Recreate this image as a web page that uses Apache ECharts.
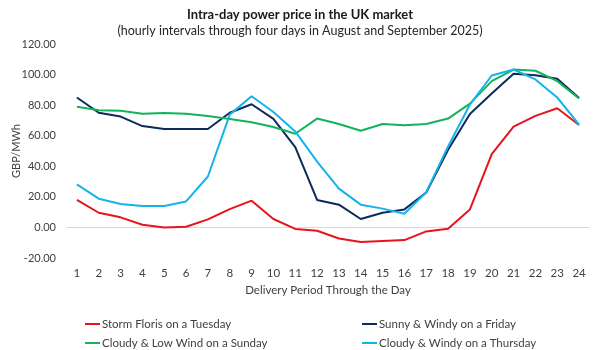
<!DOCTYPE html>
<html>
<head>
<meta charset="utf-8">
<script src="https://cdn.jsdelivr.net/npm/echarts@6/dist/echarts.min.js"></script>
<style>
  html, body { margin: 0; padding: 0; background: #fff; }
  #chart { width: 600px; height: 350px; }
</style>
</head>
<body>
<div id="chart"></div>
<script>
// delivery periods 1..24
const periods = ['1','2','3','4','5','6','7','8','9','10','11','12','13','14','15','16','17','18','19','20','21','22','23','24'];

const stormFloris = [18, 9.6, 6.6, 1.8, 0, 0.4, 5.3, 12, 17.5, 5.5, -1, -2.2, -7.2, -9.6, -8.8, -8.3, -2.6, -0.9, 11.8, 48, 66, 73, 78, 67];
const sunnyWindy = [85, 75, 72.5, 66.3, 64.4, 64.4, 64.4, 75, 80.6, 71, 52.5, 18, 14.9, 5.5, 9.6, 11.8, 22.8, 50.8, 74.2, 87.6, 100.5, 99.6, 97.2, 84.7];
const cloudyLowWind = [79, 76.6, 76.4, 74.4, 74.9, 74.4, 72.9, 71, 68.8, 65.7, 61.3, 71.2, 67.7, 63.3, 67.7, 66.8, 67.7, 71.2, 81, 95.7, 103.3, 102.5, 95.7, 84.3];
const cloudyWindy = [28.2, 18.8, 15.3, 14, 14, 17, 33.3, 73.8, 85.8, 75.5, 62.8, 43.1, 25.4, 14.9, 12.3, 9, 23, 53, 80.4, 99.4, 103.3, 96.8, 85, 67.2];

const seriesNames = ['Storm Floris on a Tuesday', 'Sunny & Windy on a Friday', 'Cloudy & Low Wind on a Sunday', 'Cloudy & Windy on a Thursday'];
const seriesColors = ['#e8141c', '#0c2a5c', '#12b35a', '#14b4ea'];
const seriesData = [stormFloris, sunnyWindy, cloudyLowWind, cloudyWindy];

const font = 'Lato';
const chart = echarts.init(document.getElementById('chart'));

// legend positions (two columns, two rows)
const legendPos = [[80, 313], [357, 313], [80, 332], [357, 332]];

chart.setOption({
  animation: false,
  textStyle: { fontFamily: font, color: '#404040' },
  title: {
    text: 'Intra-day power price in the UK market',
    subtext: '(hourly intervals through four days in August and September 2025)',
    left: 'center',
    top: 3,
    itemGap: 3,
    textStyle: { fontFamily: font, fontSize: 13, fontWeight: 'bold', color: '#1a1a1a' },
    subtextStyle: { fontFamily: font, fontSize: 12.5, color: '#262626' }
  },
  legend: seriesNames.map((name, i) => ({
    data: [name],
    left: legendPos[i][0],
    top: legendPos[i][1],
    icon: 'rect',
    itemWidth: 15,
    itemHeight: 2,
    itemGap: 2,
    textStyle: { fontFamily: font, fontSize: 11.5, color: '#404040', padding: [0, 0, 0, -3] }
  })),
  grid: { left: 66, right: 10, top: 44, bottom: 92, containLabel: false, outerBoundsMode: 'none' },
  xAxis: {
    type: 'category',
    data: periods,
    boundaryGap: true,
    name: 'Delivery Period Through the Day',
    nameLocation: 'middle',
    nameGap: 24,
    nameTextStyle: { fontFamily: font, fontSize: 11.5, color: '#404040' },
    axisLine: { show: false },
    axisTick: { show: false },
    axisLabel: { fontFamily: font, fontSize: 11.5, color: '#404040', margin: 9 }
  },
  yAxis: {
    type: 'value',
    min: -20,
    max: 120,
    interval: 20,
    name: 'GBP/MWh',
    nameLocation: 'middle',
    nameGap: 44,
    nameMoveOverlap: false,
    nameTextStyle: { fontFamily: font, fontSize: 11, color: '#404040' },
    axisLine: { show: false },
    axisTick: { show: false },
    splitLine: { show: false },
    axisLabel: {
      fontFamily: font, fontSize: 11, color: '#404040', margin: 10,
      formatter: v => v.toFixed(2)
    }
  },
  series: seriesNames.map((name, i) => ({
    name: name,
    type: 'line',
    data: seriesData[i],
    showSymbol: false,
    symbol: 'none',
    color: seriesColors[i],
    lineStyle: { width: 2, color: seriesColors[i] },
    z: 3,
    markLine: i === 0 ? {
      silent: true,
      symbol: 'none',
      label: { show: false },
      lineStyle: { color: '#d9d9d9', width: 1, type: 'solid' },
      data: [{ yAxis: 0 }],
      z: 1
    } : undefined
  }))
});
</script>
</body>
</html>
